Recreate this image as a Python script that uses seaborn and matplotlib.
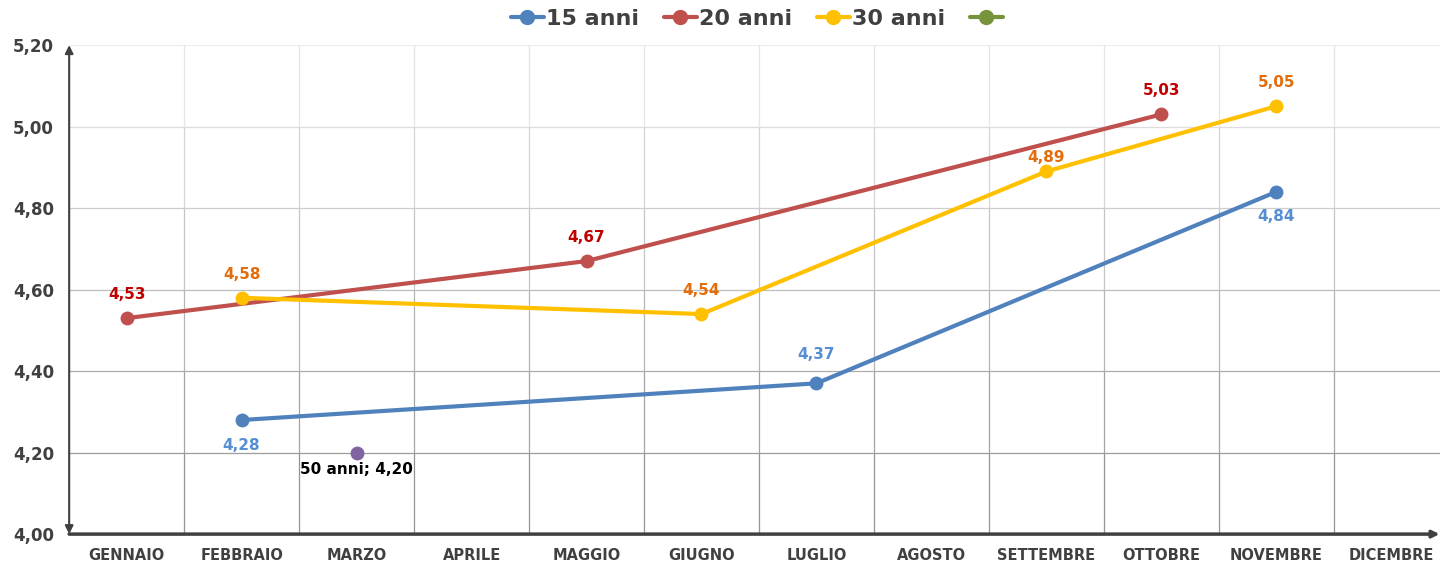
import numpy as np
import pandas as pd
import seaborn as sns
import matplotlib.pyplot as plt
from matplotlib.lines import Line2D
from matplotlib.ticker import FuncFormatter

sns.set_theme(style="white")
plt.rcParams['font.family'] = ['DejaVu Sans']

# ----------------------------------------------------------------------------------------------------------------------
mesi = ["GENNAIO", "FEBBRAIO", "MARZO", "APRILE", "MAGGIO", "GIUGNO",
        "LUGLIO", "AGOSTO", "SETTEMBRE", "OTTOBRE", "NOVEMBRE", "DICEMBRE"]

anni_15_mesi = ["FEBBRAIO", "LUGLIO", "NOVEMBRE"]
anni_15_val = [4.28, 4.37, 4.84]

anni_20_mesi = ["GENNAIO", "MAGGIO", "OTTOBRE"]
anni_20_val = [4.53, 4.67, 5.03]

anni_30_mesi = ["FEBBRAIO", "GIUGNO", "SETTEMBRE", "NOVEMBRE"]
anni_30_val = [4.58, 4.54, 4.89, 5.05]

anni_50_mesi = ["MARZO"]
anni_50_val = [4.20]

serie = ["15 anni", "20 anni", "30 anni", "50 anni"]
colori_linea = ["#4f81bd", "#c0504d", "#ffc000", "#8064a2"]
colori_etichetta = ["#558ed5", "#c00000", "#e46c0a", "#000000"]
# label offsets (points): positive above, negative below
offset_15 = [-18, 21, -18]
offset_20 = [17, 17, 17]
offset_30 = [17, 17, 10, 17]
offset_50 = [-12]

# ----------------------------------------------------------------------------------------------------------------------
rows = []
for nome, ms, vs in zip(serie, [anni_15_mesi, anni_20_mesi, anni_30_mesi, anni_50_mesi],
                        [anni_15_val, anni_20_val, anni_30_val, anni_50_val]):
    for m, v in zip(ms, vs):
        rows.append({"serie": nome, "mese": mesi.index(m), "valore": v})
df = pd.DataFrame(rows)

fig = plt.figure(figsize=(14.41, 5.64), dpi=100)
ax = fig.add_axes([0.048, 0.053, 0.951, 0.867])

sns.lineplot(data=df, x="mese", y="valore", hue="serie", hue_order=serie,
             palette=colori_linea, marker="o", markersize=10, markeredgewidth=0,
             linewidth=3, sort=False, legend=False, ax=ax, zorder=3)

# Data Labels
for (nome, ms, vs, offs), col in zip(
        zip(serie, [anni_15_mesi, anni_20_mesi, anni_30_mesi, anni_50_mesi],
            [anni_15_val, anni_20_val, anni_30_val, anni_50_val],
            [offset_15, offset_20, offset_30, offset_50]), colori_etichetta):
    for m, v, o in zip(ms, vs, offs):
        testo = f"{v:.2f}".replace(".", ",")
        if nome == "50 anni":
            testo = f"{nome}; {testo}"
        ax.annotate(testo, (mesi.index(m), v), xytext=(0, o), textcoords="offset points",
                    ha="center", va="center", color=col, fontsize=11, fontweight="bold", zorder=4)

# Axes
ax.set_xlim(-0.5, 11.42)
ax.set_ylim(4.0, 5.2)
ax.set_xticks(range(12))
ax.set_xticklabels(mesi, fontsize=10.5, fontweight="bold", color="#404040")
ax.set_yticks(np.arange(4.0, 5.21, 0.2))
ax.yaxis.set_major_formatter(FuncFormatter(lambda v, p: f"{v:.2f}".replace(".", ",")))
for t in ax.get_yticklabels():
    t.set_fontsize(12)
    t.set_fontweight("bold")
    t.set_color("#404040")
ax.tick_params(axis="y", length=5, width=1, color="#404040", pad=6)
ax.tick_params(axis="x", length=0, pad=10)
ax.set_xlabel("")
ax.set_ylabel("")

# Gridlines | darker toward the bottom of the plot
livelli = np.arange(4.0, 5.21, 0.2)
def grigio(y):
    g = 0.55 + (y - 4.0) / 1.2 * 0.38
    return (g, g, g)

for y in livelli[1:]:
    ax.axhline(y, color=grigio(y), linewidth=0.9, zorder=0)
for x in np.arange(0.5, 11.0, 1):
    for y0, y1 in zip(livelli[:-1], livelli[1:]):
        ax.plot([x, x], [y0, y1], color=grigio((y0 + y1) / 2), linewidth=0.9, zorder=0,
                solid_capstyle="butt")

for s in ["top", "right", "left", "bottom"]:
    ax.spines[s].set_visible(False)

# Axis lines with arrows
ax.annotate("", xy=(0, 1.0), xytext=(0, 0), xycoords="axes fraction",
            arrowprops=dict(arrowstyle="<|-|>", color="#404040", lw=1.5, mutation_scale=12,
                            shrinkA=0, shrinkB=0))
ax.annotate("", xy=(1.0, 0), xytext=(0, 0), xycoords="axes fraction",
            arrowprops=dict(arrowstyle="-|>", color="#404040", lw=2.5, mutation_scale=10,
                            shrinkA=0, shrinkB=0))

# Legend
handles = [Line2D([], [], color=c, marker="o", markersize=10, linewidth=3)
           for c in ["#4f81bd", "#c0504d", "#ffc000", "#77933c"]]
labels = ["15 anni", "20 anni", "30 anni", ""]
fig.legend(handles, labels, loc="center", bbox_to_anchor=(0.526, 0.966), ncol=4, frameon=False,
           prop={"size": 16, "weight": "bold"}, labelcolor="#404040", handlelength=1.5,
           handletextpad=0.1, columnspacing=1.1)

fig.savefig("out.png", dpi=100)
